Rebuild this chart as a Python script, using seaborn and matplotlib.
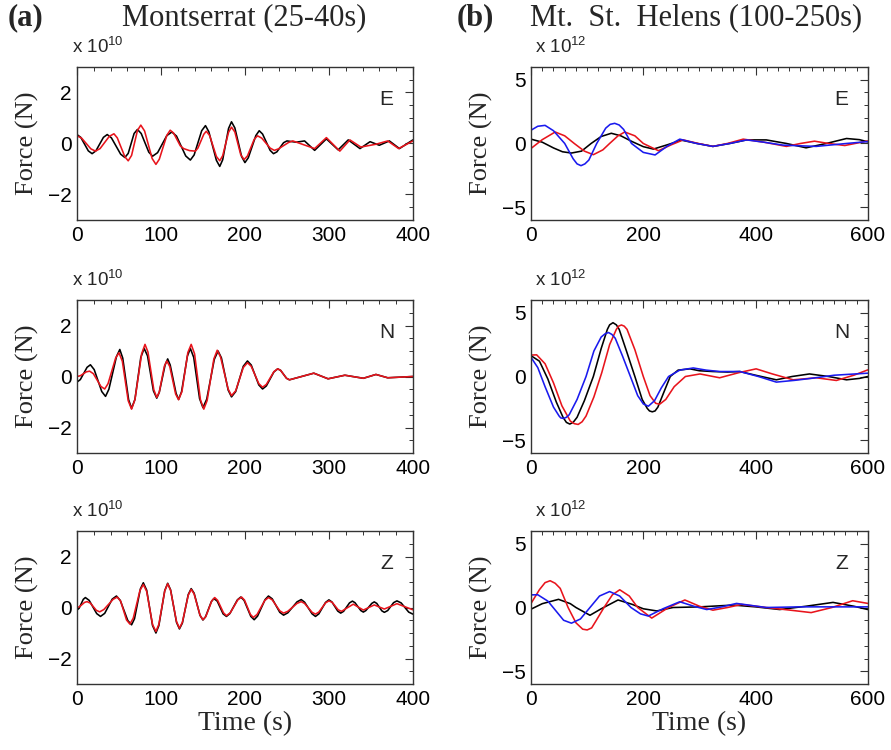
import numpy as np
import matplotlib
matplotlib.use("Agg")
import matplotlib.pyplot as plt
import seaborn as sns
from matplotlib.ticker import MultipleLocator

sns.set_theme(style="white")
plt.rcParams.update({"font.family": ["Liberation Sans", "DejaVu Sans"],
                     "mathtext.default": "regular",
                     "xtick.direction": "in", "ytick.direction": "in",
                     "xtick.top": True, "ytick.right": True,
                     "axes.edgecolor": "#333333", "axes.linewidth": 1.0})

# ---- Montserrat (25-40 s), (time s, force 1e10 N); black = data, red = model
mon_e_blk = [(0, .35), (4.5, .24), (13.5, -.29), (18, -.4), (22.5, -.29), (31.5, .24), (36, .35), (41, .22),
             (52, -.42), (57, -.55), (61, -.39), (68, .39), (72, .55), (76.5, .39), (85.5, -.34), (90, -.5),
             (96, -.36), (107, .31), (113, .45), (118.5, .29), (129.5, -.49), (135, -.65), (139.5, -.45),
             (148.5, .5), (153, .7), (157, .46), (166, -.66), (170, -.9), (173.5, -.64), (180.5, .59),
             (184, .85), (188, .61), (196, -.51), (200, -.75), (204, -.56), (213, .31), (217, .5), (221, .37),
             (230, -.27), (234, -.4), (238, -.33), (246, .03), (250, .1), (261, .05), (271, .1), (283, -.27),
             (297, .18), (311, -.25), (323, .14), (337, -.2), (349, .07), (360, -.07), (372, .1), (384, -.2),
             (400, .14)]
mon_e_red = [(0, .3), (5.5, .21), (16.5, -.21), (22, -.3), (27.5, -.2), (38.5, .28), (44, .38), (48, .22),
             (57, -.52), (61, -.68), (65, -.47), (72, .51), (76, .72), (80.5, .49), (89.5, -.59), (94, -.82),
             (98, -.62), (107, .32), (111, .52), (115, .41), (123, -.09), (127, -.2), (134, -.28), (141, -.3),
             (144, -.18), (151, .36), (154, .48), (158, .31), (166, -.51), (170, -.68), (173.5, -.48),
             (180.5, .44), (184, .64), (188, .45), (195, -.44), (199, -.63), (203, -.49), (211, .16), (215, .3),
             (220, .21), (230, -.18), (235, -.27), (240, -.21), (252, .04), (257, .1), (283, -.2), (297, .23),
             (313, -.3), (325, .14), (338, -.14), (356, -.03), (370, .1), (383, -.2), (400, .1)]

mon_n_blk = [(0, -.22), (4, -.12), (12, .36), (16, .46), (20.5, .27), (29.5, -.59), (34, -.78), (38, -.5),
             (47, .78), (51, 1.06), (54.5, .72), (61.5, -.91), (65, -1.25), (69, -.9), (76, .75), (80, 1.1),
             (84, .81), (91, -.56), (95, -.85), (98, -.62), (105, .46), (108, .69), (111, .45), (118, -.66),
             (121, -.9), (124.5, -.6), (131.5, .8), (135, 1.1), (139, .75), (146, -.87), (150, -1.22),
             (154.5, -.89), (163.5, .67), (168, 1.0), (172, .73), (180, -.53), (184, -.8), (189, -.59),
             (198, .4), (203, .61), (207.5, .45), (216.5, -.33), (221, -.49), (225.5, -.37), (234.5, .18),
             (239, .3), (242.5, .24), (249.5, -.07), (253, -.13), (282, .13), (299, -.09), (319, .05),
             (341, -.07), (356, .08), (370, -.05), (400, 0)]
mon_n_red = [(0, 0), (4, .03), (11, .18), (15, .21), (19.5, .11), (28.5, -.39), (33, -.49), (37, -.28),
             (46, .72), (50, .93), (54, .6), (61, -.95), (65, -1.28), (69, -.91), (77, .89), (81, 1.26),
             (84.5, .96), (91.5, -.52), (95, -.82), (98, -.61), (104, .4), (107, .61), (110.5, .39),
             (117.5, -.69), (121, -.91), (125, -.59), (132, .94), (136, 1.26), (140, .89), (147, -.91),
             (151, -1.28), (155, -.94), (163, .69), (167, 1.03), (171, .76), (180, -.49), (184, -.75),
             (189, -.56), (198, .35), (203, .54), (207.5, .4), (216.5, -.28), (221, -.42), (225.5, -.31),
             (234.5, .19), (239, .3), (242.5, .24), (249.5, -.07), (253, -.13), (282, .13), (299, -.09),
             (319, .05), (341, -.07), (356, .08), (370, -.05), (400, 0)]

mon_z_blk = [(0, -.1), (2.5, -.03), (7.5, .32), (10, .39), (14.5, .28), (23.5, -.24), (28, -.35), (33, -.23),
             (42, .33), (47, .45), (51.5, .28), (60.5, -.51), (65, -.68), (68.5, -.44), (75.5, .73), (79, .97),
             (83, .68), (90, -.71), (94, -1.0), (97.5, -.71), (104.5, .66), (108, .95), (111.5, .69),
             (118.5, -.58), (122, -.84), (125.5, -.61), (132.5, .51), (136, .74), (139.5, .56), (146.5, -.31),
             (150, -.49), (153, -.37), (160, .23), (163, .35), (167, .25), (174, -.25), (178, -.35), (182, -.24),
             (191, .3), (195, .41), (199, .28), (207, -.35), (211, -.48), (215, -.34), (224, .31), (228, .45),
             (232.5, .34), (241.5, -.19), (246, -.3), (251, -.21), (262, .22), (267, .31), (271, .21),
             (280, -.25), (284, -.35), (288, -.25), (296, .2), (300, .3), (303.5, .22), (310.5, -.14),
             (314, -.22), (317.5, -.15), (324.5, .18), (328, .25), (331, .19), (338, -.12), (341, -.18),
             (344, -.12), (351, .16), (354, .22), (357, .16), (363, -.13), (366, -.19), (370, -.12), (377, .19),
             (381, .26), (386, .18), (395, -.18), (400, -.26)]
mon_z_red = [(0, 0), (3, .03), (9, .2), (12, .23), (16, .17), (23, -.11), (27, -.17), (32, -.08), (43, .32),
             (48, .41), (52, .25), (59, -.49), (63, -.65), (67, -.42), (75, .67), (79, .9), (83, .63),
             (90, -.67), (94, -.94), (97.5, -.66), (104.5, .65), (108, .93), (111.5, .67), (118.5, -.55),
             (122, -.81), (125.5, -.58), (132.5, .48), (136, .71), (139.5, .53), (146.5, -.3), (150, -.48),
             (153.5, -.35), (160.5, .26), (164, .39), (167.5, .28), (174.5, -.21), (178, -.32), (182.5, -.21),
             (191.5, .3), (196, .41), (199.5, .29), (206.5, -.27), (210, -.39), (214.5, -.27), (223.5, .27),
             (228, .39), (232.5, .3), (241.5, -.13), (246, -.22), (251, -.15), (262, .16), (267, .23),
             (271, .16), (280, -.19), (284, -.26), (288, -.18), (296, .18), (300, .26), (304, .2), (311, -.09),
             (315, -.15), (329, .13), (341, -.1), (354, .1), (366, -.06), (381, .15), (400, -.09)]

# ---- Mt. St. Helens (100-250 s), (time s, force 1e12 N); black / red / blue
msh_e_blk = [(0, .34), (20, .1), (40, -.35), (56, -.65), (72, -.75), (90, -.6), (107, 0), (125, .55), (143, .8),
             (160, .6), (180, .15), (200, -.25), (218, -.44), (243, -.1), (268, .26), (296, 0), (324, -.23),
             (354, 0), (384, .28), (419, .28), (455, 0), (490, -.34), (526, 0), (562, .39), (585, .3), (600, .13)]
msh_e_red = [(0, -.39), (20, .3), (43, .9), (60, .6), (77, 0), (95, -.6), (111, -.88), (128, -.5), (140, 0),
             (155, .6), (167, .9), (185, .6), (200, 0), (227, -.57), (250, -.1), (271, .28), (298, 0),
             (324, -.23), (350, 0), (378, .34), (415, .1), (455, -.23), (480, 0), (505, .18), (530, 0),
             (559, -.16), (600, .2)]
msh_e_blu = [(0, 1.04), (12, 1.35), (25, 1.42), (40, 1.0), (60, 0), (75, -1.2), (82, -1.6), (89, -1.74),
             (96, -1.6), (103, -1.3), (117, 0), (133, 1.2), (141, 1.5), (149, 1.58), (157, 1.45), (165, 1.1),
             (179, 0), (200, -.7), (221, -.9), (243, -.2), (265, .34), (295, 0), (324, -.23), (354, 0),
             (384, .28), (415, .1), (449, -.13), (508, -.23), (562, 0), (600, .15)]

msh_n_blk = [(0, 1.63), (15, 1.2), (30, -.2), (45, -2.0), (57, -3.2), (63, -3.6), (69, -3.73), (75, -3.6),
             (82, -3.2), (95, -1.9), (111, 0), (125, 2.2), (136, 3.7), (140, 4.05), (146, 4.22), (152, 4.05),
             (157, 3.7), (170, 2.0), (185, 0), (198, -1.8), (207, -2.5), (211, -2.7), (216, -2.77), (221, -2.7),
             (226, -2.4), (236, -1.3), (248, 0), (262, .5), (283, .6), (300, .45), (324, .39), (350, .35),
             (372, .39), (400, .1), (437, -.26), (465, 0), (496, .2), (530, 0), (562, -.26), (585, -.15),
             (600, 0)]
msh_n_red = [(0, 1.68), (10, 1.7), (25, 1.0), (40, -.5), (55, -2.3), (70, -3.5), (77, -3.7), (84, -3.76),
             (91, -3.55), (98, -3.1), (112, -1.6), (126, .3), (140, 2.5), (152, 3.7), (156, 3.95), (161, 4.04),
             (166, 3.95), (171, 3.7), (185, 2.1), (200, 0), (212, -1.5), (222, -2.1), (229, -2.18), (240, -1.8),
             (255, -.8), (275, 0), (301, .2), (336, -.1), (370, .3), (401, .6), (430, .2), (467, -.26),
             (508, -.1), (544, -.31), (575, .1), (600, .52)]
msh_n_blu = [(0, 1.5), (12, .7), (25, -.8), (40, -2.4), (50, -3.1), (53, -3.25), (58, -3.29), (63, -3.2),
             (68, -3.0), (82, -1.8), (98, 0), (112, 2.0), (125, 3.1), (132, 3.35), (138, 3.45), (144, 3.3),
             (150, 3.0), (163, 1.6), (177, 0), (190, -1.5), (200, -2.15), (209, -2.33), (220, -1.9), (232, -.9),
             (245, 0), (265, .5), (289, .67), (312, .5), (336, .39), (372, .39), (405, 0), (437, -.44),
             (470, -.3), (502, -.13), (540, .1), (600, .26)]

msh_z_blk = [(0, -.13), (20, .3), (49, .64), (70, .3), (80, 0), (105, -.61), (125, -.1), (155, .59),
             (180, .25), (200, -.1), (224, -.27), (253, 0), (301, .05), (360, .19), (400, .05), (443, -.16),
             (490, .1), (538, .4), (575, .1), (600, -.16)]
msh_z_red = [(0, .32), (15, 1.4), (25, 1.95), (34, 2.1), (43, 1.9), (52, 1.5), (66, 0), (80, -1.2),
             (92, -1.7), (100, -1.76), (108, -1.6), (115, -1.1), (130, 0), (145, 1.0), (158, 1.39), (175, .9),
             (190, 0), (215, -.83), (245, 0), (274, .59), (300, .1), (324, -.21), (350, 0), (375, .24), (419, 0),
             (460, -.2), (499, -.4), (536, 0), (573, .53), (600, .32)]
msh_z_blu = [(0, .99), (12, 1.0), (30, .5), (45, -.3), (58, -1.0), (72, -1.23), (88, -.9), (105, 0),
             (122, .9), (140, 1.25), (158, .9), (178, 0), (195, -.5), (209, -.67), (235, -.1), (265, .45),
             (290, .1), (313, -.16), (340, .05), (366, .32), (419, 0), (480, .05), (540, .05), (600, .05)]

RED, BLUE = "#e8141c", "#1a1aee"
left_panels = [("E", [(mon_e_blk, "black"), (mon_e_red, RED)]),
               ("N", [(mon_n_blk, "black"), (mon_n_red, RED)]),
               ("Z", [(mon_z_blk, "black"), (mon_z_red, RED)])]
right_panels = [("E", [(msh_e_blk, "black"), (msh_e_red, RED), (msh_e_blu, BLUE)]),
                ("N", [(msh_n_blk, "black"), (msh_n_red, RED), (msh_n_blu, BLUE)]),
                ("Z", [(msh_z_blk, "black"), (msh_z_red, RED), (msh_z_blu, BLUE)])]

fig = plt.figure(figsize=(8.91, 7.5), dpi=100)
row_bottoms = [0.7067, 0.396, 0.088]
row_h = 0.204
serif = ["Liberation Serif", "DejaVu Serif"]


def draw_panel(ax, comp, series, xmax, ylim, yticks, yminor, expo, exp_x):
    for pts, c in series:
        t, v = zip(*pts)
        sns.lineplot(x=list(t), y=list(v), color=c, linewidth=1.15, ax=ax,
                     sort=False, estimator=None)
    ax.set_xlim(0, xmax)
    ax.set_ylim(-ylim, ylim)
    ax.set_yticks(yticks)
    ax.xaxis.set_major_locator(MultipleLocator(100 if xmax == 400 else 200))
    ax.xaxis.set_minor_locator(MultipleLocator(20))
    ax.yaxis.set_minor_locator(MultipleLocator(yminor))
    ax.tick_params(which="major", length=6, width=0.8, labelsize=15, pad=4,
                   colors="#333333", labelcolor="black")
    ax.tick_params(which="minor", length=3, width=0.7, colors="#333333")
    ax.set_ylabel("Force (N)", fontsize=19, family=serif, labelpad=6)
    ax.text(0.922, 0.785, comp, transform=ax.transAxes, fontsize=15,
            ha="center", va="center")
    ax.text(exp_x, 1.09, "x 10$^{%d}$" % expo, transform=ax.transAxes,
            fontsize=13.5, ha="left", va="baseline")


for i, (comp, series) in enumerate(left_panels):
    ax = fig.add_axes([0.0864, row_bottoms[i], 0.377, row_h])
    draw_panel(ax, comp, series, 400, 3, [-2, 0, 2], 0.5, 10, -0.015)
    if i == 2:
        ax.set_xlabel("Time (s)", fontsize=20, family=serif, labelpad=2)

for i, (comp, series) in enumerate(right_panels):
    ax = fig.add_axes([0.596, row_bottoms[i], 0.378, row_h])
    draw_panel(ax, comp, series, 600, 6, [-5, 0, 5], 1, 12, 0.012)
    if i == 2:
        ax.set_xlabel("Time (s)", fontsize=20, family=serif, labelpad=2)

fig.text(0.009, 0.977, "(a)", fontsize=22, family=serif, weight="bold", va="center")
fig.text(0.274, 0.977, "Montserrat (25-40s)", fontsize=22, family=serif,
         ha="center", va="center")
fig.text(0.513, 0.977, "(b)", fontsize=22, family=serif, weight="bold", va="center")
fig.text(0.781, 0.977, "Mt.  St.  Helens (100-250s)", fontsize=22, family=serif,
         ha="center", va="center")

fig.savefig("out.png", dpi=100)
